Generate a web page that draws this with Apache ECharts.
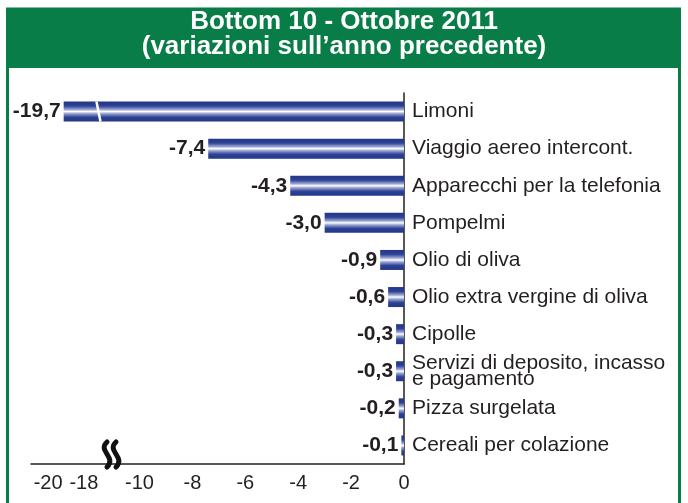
<!DOCTYPE html>
<html>
<head>
<meta charset="utf-8">
<script src="https://cdn.jsdelivr.net/npm/echarts@6/dist/echarts.min.js"></script>
<style>
html, body { margin: 0; padding: 0; background: #fff; }
#chartCont { width: 688px; height: 503px; }
</style>
</head>
<body>
<div id="chartCont"></div>
<script>
var categories = ['Limoni', 'Viaggio aereo intercont.', 'Apparecchi per la telefonia', 'Pompelmi',
    'Olio di oliva', 'Olio extra vergine di oliva', 'Cipolle',
    'Servizi di deposito, incasso\ne pagamento', 'Pizza surgelata', 'Cereali per colazione'];
var values = [-19.7, -7.4, -4.3, -3.0, -0.9, -0.6, -0.3, -0.3, -0.2, -0.1];
var tickLabels = [-20, -18, -10, -8, -6, -4, -2, 0];

// broken axis: real values below -10 are squeezed onto the axis
var breakReal = [-20, -18, -10];
var breakAxis = [-13.0, -12.1, -10];

function toAxis(v) {
    if (v >= breakReal[2]) return v;
    var i = v >= breakReal[1] ? 1 : 0;
    var t = (v - breakReal[i]) / (breakReal[i + 1] - breakReal[i]);
    return breakAxis[i] + t * (breakAxis[i + 1] - breakAxis[i]);
}

function fmt(v) {
    return v.toFixed(1).replace('.', ',');
}

window.onload = function() {
    setBars();
};

function setBars() {
    var ec = echarts.init(document.getElementById('chartCont'));
    var green = '#087d47';
    var txt = '#231f20';
    var font = "'Liberation Sans', Arial, sans-serif";
    var tickPos = tickLabels.map(toAxis);

    ec.setOption({
        animation: false,
        grid: { left: 31, right: 284, top: 93, height: 371 },
        xAxis: {
            type: 'value',
            min: -14.1,
            max: 0,
            splitLine: { show: false },
            axisTick: { show: false },
            axisLine: { show: true, lineStyle: { color: txt, width: 1.5 } },
            axisLabel: {
                customValues: tickPos,
                margin: 9,
                color: txt,
                fontSize: 20,
                fontFamily: font,
                rich: {
                    far: { color: txt, fontSize: 20, fontFamily: font, padding: [0, 24, 0, 0] }
                },
                formatter: function(v) {
                    for (var i = 0; i < tickPos.length; i++) {
                        if (Math.abs(tickPos[i] - v) < 1e-6) {
                            return i === 0 ? '{far|' + tickLabels[i] + '}' : String(tickLabels[i]);
                        }
                    }
                    return '';
                }
            }
        },
        yAxis: {
            type: 'category',
            inverse: true,
            position: 'right',
            data: categories,
            axisTick: { show: false },
            axisLine: { show: true, lineStyle: { color: txt, width: 1.5 } },
            axisLabel: {
                margin: 8,
                color: txt,
                fontSize: 21,
                lineHeight: 16,
                fontFamily: font
            }
        },
        series: [{
            type: 'bar',
            barWidth: 20,
            data: values.map(toAxis),
            itemStyle: {
                color: new echarts.graphic.LinearGradient(0, 0, 0, 1, [
                    { offset: 0, color: '#22378a' },
                    { offset: 0.22, color: '#2d4294' },
                    { offset: 0.4, color: '#9aa6d2' },
                    { offset: 0.5, color: '#ffffff' },
                    { offset: 0.6, color: '#9aa6d2' },
                    { offset: 0.78, color: '#2d4294' },
                    { offset: 1, color: '#22378a' }
                ])
            },
            label: {
                show: true,
                position: 'left',
                distance: 3,
                color: txt,
                fontSize: 21,
                fontWeight: 'bold',
                fontFamily: font,
                formatter: function(p) {
                    return fmt(values[p.dataIndex]);
                }
            }
        }]
    });

    // break marks, placed through the axis scale
    var gx = ec.convertToPixel({ xAxisIndex: 0 }, -11.0);
    var bx = ec.convertToPixel({ xAxisIndex: 0 }, -11.55);
    var by = ec.convertToPixel({ yAxisIndex: 0 }, categories[0]);
    var wave = function(x0) {
        return {
            type: 'bezierCurve',
            shape: { x1: x0 + 3, y1: 442, x2: x0 + 3, y2: 467, cpx1: x0 - 7, cpy1: 451, cpx2: x0 + 13, cpy2: 457 },
            style: { stroke: '#111', lineWidth: 5, fill: null, lineCap: 'round' },
            z: 20
        };
    };

    ec.setOption({
        graphic: [
            { type: 'rect', shape: { x: 7.5, y: 9, width: 672, height: 520 }, style: { fill: null, stroke: green, lineWidth: 3 }, z: 1 },
            { type: 'rect', shape: { x: 6, y: 9, width: 675, height: 59 }, style: { fill: green }, z: 2 },
            {
                type: 'text', x: 344, y: 22, z: 3,
                style: { text: 'Bottom 10 - Ottobre 2011', fill: '#fff', fontSize: 26, fontWeight: 'bold', fontFamily: font, align: 'center', verticalAlign: 'middle' }
            },
            {
                type: 'text', x: 344, y: 47, z: 3,
                style: { text: '(variazioni sull\u2019anno precedente)', fill: '#fff', fontSize: 26, fontWeight: 'bold', fontFamily: font, align: 'center', verticalAlign: 'middle' }
            },
            {
                type: 'line', z: 20,
                shape: { x1: bx - 2, y1: by - 10, x2: bx + 2, y2: by + 10 },
                style: { stroke: '#fff', lineWidth: 2.5 }
            },
            wave(gx - 9),
            wave(gx)
        ]
    });
}
</script>
</body>
</html>
